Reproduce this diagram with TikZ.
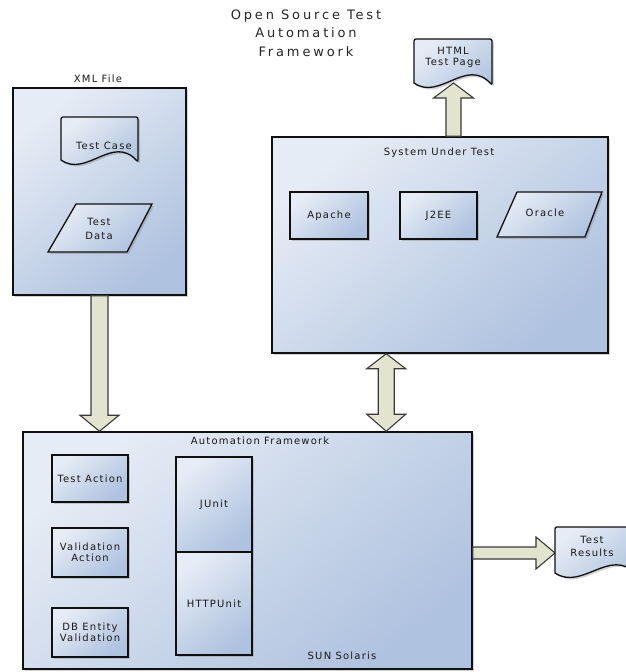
\documentclass[tikz,border=0pt]{standalone}
\usepackage{fontspec}
\setmainfont{DejaVu Sans}[LetterSpace=12]
\newfontfamily\titlefont{DejaVu Sans}[LetterSpace=22]
\usetikzlibrary{calc,shadows}
\definecolor{boxlight}{HTML}{E6ECF5}
\definecolor{boxdark}{HTML}{AFC2DF}
\definecolor{arrowfill}{HTML}{E2E4CF}
\definecolor{edgecol}{HTML}{101010}
\definecolor{arrowedge}{HTML}{3A3A3A}
\begin{document}
\begin{tikzpicture}[x=1pt,y=-1pt,
  shadowed/.style={drop shadow={shadow xshift=2pt,shadow yshift=-2pt,fill=gray,opacity=0.35}},
  boxfill/.style={top color=boxlight,bottom color=boxdark,shading angle=40},
  frame/.style={boxfill,draw=edgecol,line width=1.5pt,shadowed,inner sep=0pt},
  smallframe/.style={boxfill,draw=edgecol,line width=1.3pt,shadowed,inner sep=0pt},
  helper/.style={inner sep=0pt,outer sep=0pt},
  lbl/.style={font=\fontsize{10}{11.5}\selectfont,align=center,inner sep=0pt,text=black!90},
  blk/.style={fill=arrowfill,draw=arrowedge,line width=1.1pt,line join=miter}]

\useasboundingbox (0,0) rectangle (625,672);

% title
\node[font=\titlefont\fontsize{13}{18.5}\selectfont,align=center,inner sep=0pt,text=black!85] (title) at (306,33) {Open Source Test\\Automation\\Framework};

% containers
\node[frame,minimum width=173pt,minimum height=207pt] (xml) at (99.5,191.5) {};
\node[lbl] (xmlt) at (98,79) {XML File};
\node[frame,minimum width=336pt,minimum height=216pt] (sut) at (440,245) {};
\node[lbl] (sutt) at (439,153) {System Under Test};
\node[frame,minimum width=449pt,minimum height=237pt] (af) at (247.5,550.5) {};
\node[lbl] (aft) at (260,441) {Automation Framework};
\node[lbl] (sun) at (342,656) {SUN Solaris};

% block arrows
\coordinate (a2) at (xml.south |- af.north);
\draw[blk] ($(xml.south)+(-8.5,0)$) -- ($(a2)+(-8.5,-16)$) -- ($(a2)+(-19.5,-16)$) -- (a2) -- ($(a2)+(19.5,-16)$) -- ($(a2)+(8.5,-16)$) -- ($(xml.south)+(8.5,0)$) -- cycle;

\coordinate (d1) at ($(sut.south west)+(115,0)$);
\coordinate (d2) at (d1 |- af.north);
\draw[blk] (d1) -- ($(d1)+(19.5,15)$) -- ($(d1)+(8,15)$) -- ($(d2)+(8,-17)$) -- ($(d2)+(19.5,-17)$) -- (d2) -- ($(d2)+(-19.5,-17)$) -- ($(d2)+(-8,-17)$) -- ($(d1)+(-8,15)$) -- ($(d1)+(-19.5,15)$) -- cycle;

% documents (helper frames)
\node[helper,minimum width=78pt,minimum height=44pt] (html) at (453,61) {};
\node[helper,minimum width=82pt,minimum height=46pt] (tr) at (596,550) {};
\node[helper,minimum width=77pt,minimum height=43pt] (tc) at (99.5,138.5) {};

\coordinate (u1) at ($(sut.north)+(13.5,0)$);
\coordinate (u2) at (u1 |- html.south);
\draw[blk] ($(u1)+(-7.5,0)$) -- ($(u2)+(-7.5,15)$) -- ($(u2)+(-20,15)$) -- (u2) -- ($(u2)+(20,15)$) -- ($(u2)+(7.5,15)$) -- ($(u1)+(7.5,0)$) -- cycle;

\coordinate (r1) at ($(af.east)+(0,2.5)$);
\coordinate (r2) at (r1 -| tr.west);
\draw[blk] ($(r1)+(0,-6)$) -- ($(r2)+(-19,-6)$) -- ($(r2)+(-19,-16)$) -- (r2) -- ($(r2)+(-19,16)$) -- ($(r2)+(-19,6)$) -- ($(r1)+(0,6)$) -- cycle;

% document shapes
\foreach \d in {html,tr,tc}{
  \path[boxfill,draw=edgecol,line width=1.3pt,shadowed,rounded corners=2pt]
    (\d.south west) -- (\d.north west) -- (\d.north east) -- ($(\d.south east)+(0,2)$)
    [sharp corners] .. controls ($(\d.south west)!0.67!(\d.south east)+(0,-26)$) and ($(\d.south west)!0.33!(\d.south east)+(0,18)$) .. (\d.south west) -- cycle;
}
\node[lbl,font=\fontsize{10}{11}\selectfont] (htmlt) at (453,57.5) {HTML\\Test Page};
\node[lbl,font=\fontsize{10}{12.5}\selectfont] (trt) at (592,546.5) {Test\\Results};
\node[lbl] (tct) at (104,146) {Test Case};

% parallelograms
\node[helper,minimum width=104pt,minimum height=48pt] (td) at (100,228) {};
\path[boxfill,draw=edgecol,line width=1.3pt,shadowed] ($(td.north west)+(28,0)$) -- (td.north east) -- ($(td.south east)+(-25,0)$) -- (td.south west) -- cycle;
\node[lbl,font=\fontsize{10}{13.5}\selectfont] (tdt) at (99,229) {Test\\Data};

\node[helper,minimum width=105pt,minimum height=45pt] (orc) at (549.5,214.5) {};
\path[boxfill,draw=edgecol,line width=1.3pt,shadowed] ($(orc.north west)+(20,0)$) -- (orc.north east) -- ($(orc.south east)+(-17,0)$) -- (orc.south west) -- cycle;
\node[lbl] (orct) at (545,213) {Oracle};

% inner boxes
\node[smallframe,lbl,minimum width=78pt,minimum height=47pt] (apache) at (329,215.5) {Apache};
\node[smallframe,lbl,minimum width=77pt,minimum height=47pt] (j2ee) at (438.5,215.5) {J2EE};

\node[smallframe,lbl,minimum width=76pt,minimum height=47pt] (ta) at (90,478.5) {Test Action};
\node[smallframe,lbl,minimum width=76pt,minimum height=49pt] (va) at (90,552.5) {Validation\\Action};
\node[smallframe,lbl,minimum width=76pt,minimum height=49pt] (db) at (90,632.5) {DB Entity\\Validation};
\node[smallframe,lbl,minimum width=76pt,minimum height=95pt] (ju) at (214,504.5) {JUnit};
\node[smallframe,lbl,minimum width=76pt,minimum height=103pt] (hu) at (214,603.5) {HTTPUnit};
\end{tikzpicture}
\end{document}
